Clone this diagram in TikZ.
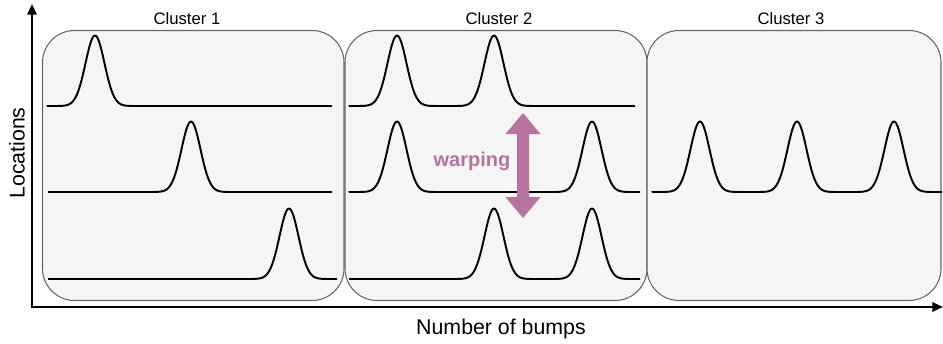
\documentclass[tikz,border=0pt]{standalone}
\usepackage{fontspec}
\setmainfont{Liberation Sans}
\usetikzlibrary{arrows.meta}
\definecolor{boxfill}{HTML}{F5F5F5}
\definecolor{boxline}{HTML}{666666}
\definecolor{warp}{HTML}{B5739D}
\tikzset{
  cluster/.style={draw=boxline, fill=boxfill, line width=0.8pt, rounded corners=24pt},
  curve/.style={line width=1.45pt, black, line join=round},
  axis/.style={line width=1.6pt, -{Triangle[length=8pt,width=7pt]}},
  title/.style={font=\fontsize{12.5}{14}\selectfont},
  axlabel/.style={font=\fontsize{16}{18}\selectfont},
  bp/.style 2 args={insert path={-- plot[domain=-48:48,samples=97] ({#1+(\x)},{#2-70.5*exp(-((\x)/9.5)^2/2)})}},
}
\begin{document}
\begin{tikzpicture}[x=0.75pt,y=-0.75pt]
\useasboundingbox (0,0) rectangle (943,343);
% cluster boxes
\path[cluster] (42.5,30.5) rectangle (344,300.5);
\path[cluster] (345,30.5) rectangle (647,300.5);
\path[cluster] (647,30.5) rectangle (941,300.5);
\node[title] (c1) at (187,19) {Cluster 1};
\node[title] (c2) at (499,19) {Cluster 2};
\node[title] (c3) at (791,19) {Cluster 3};
% axes
\coordinate (o) at (32,307);
\coordinate (ytop) at (32,4);
\coordinate (xend) at (943,307);
\draw[axis] (o) -- (ytop);
\draw[axis] ([xshift=-0.6pt]o) -- (xend);
\node[axlabel, rotate=90] (yl) at (17,153) {Locations};
\node[axlabel] (xl) at (501,329) {Number of bumps};
% cluster 1
\draw[curve] (47,106) [bp={95}{106}] -- (332,106);
\draw[curve] (48,192) -- (143,192) [bp={191}{192}] -- (332,192);
\draw[curve] (48,279) [bp={289}{279}];
% cluster 2
\draw[curve] (349,106) [bp={397}{106}] [bp={494}{106}] -- (635,106);
\draw[curve] (349,192) [bp={397}{192}] -- (544,192) [bp={592}{192}];
\draw[curve] (349,279) -- (446,279) [bp={494}{279}] [bp={592}{279}];
% cluster 3
\draw[curve] (652,192) [bp={700}{192}] [bp={797}{192}] [bp={894}{192}];
% warping arrow
\fill[warp] (523,113) -- (540.5,134) -- (529,134) -- (529,197) -- (540.5,197) -- (523,218)
  -- (505.5,197) -- (517,197) -- (517,134) -- (505.5,134) -- cycle;
\node[text=warp, font=\bfseries\fontsize{15}{17}\selectfont] (w) at (472,161) {warping};
\end{tikzpicture}
\end{document}
